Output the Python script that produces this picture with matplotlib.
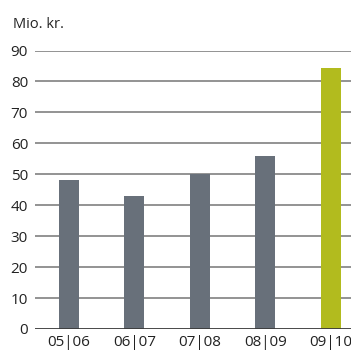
import matplotlib.pyplot as plt
import numpy as np

plt.rcParams['font.family'] = ['Open Sans', 'DejaVu Sans']

categories = ['05|06', '06|07', '07|08', '08|09', '09|10']
values = [48.3, 42.9, 50.0, 55.8, 84.2]
bar_colors = ['#68707a', '#68707a', '#68707a', '#68707a', '#b2bb1e']
yticks = [0, 10, 20, 30, 40, 50, 60, 70, 80, 90]

fig = plt.figure(figsize=(3.51, 3.50), dpi=100)
ax = fig.add_axes([35 / 351, 21 / 350, 316 / 351, 278.5 / 350])

x = np.arange(len(categories))
for yv in yticks[1:]:
    ax.axhline(yv, color='#8a8a8a', linewidth=1.3, zorder=1)
ax.axhline(0, color='#3a3a3a', linewidth=1.3, zorder=3)
ax.bar(x, values, width=0.305, color=bar_colors, zorder=2)

ax.set_xlim(-0.52, 4.31)
ax.set_ylim(0, 90)
ax.set_xticks(x)
ax.set_xticklabels(categories)
ax.set_yticks(yticks)
ax.tick_params(axis='both', length=0, labelsize=11, colors='#222222')
ax.tick_params(axis='y', pad=5)
ax.tick_params(axis='x', pad=4)
for s in ax.spines.values():
    s.set_visible(False)
ax.set_facecolor('none')

fig.text(13 / 351, 1 - 24 / 350, 'Mio. kr.', fontsize=10.5, color='#222222', va='center', ha='left')

plt.savefig('out.png', dpi=100)
plt.close()
